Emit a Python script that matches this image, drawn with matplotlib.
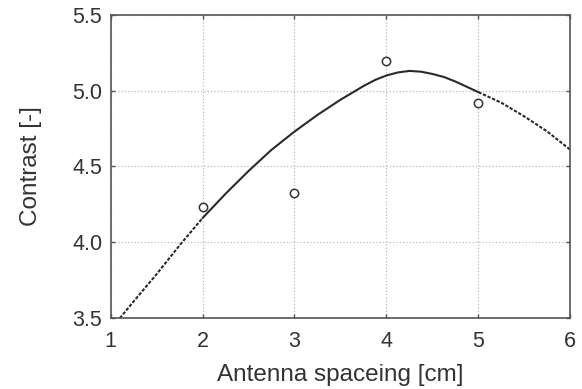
import matplotlib
matplotlib.use('Agg')
import matplotlib.pyplot as plt

plt.rcParams['font.family'] = ['Liberation Sans', 'DejaVu Sans']

# measured points
spacing = [2, 3, 4, 5]
contrast = [4.235, 4.323, 5.194, 4.921]

# fitted curve
curve_x = [1.1, 1.25, 1.5, 1.75, 2.0, 2.25, 2.5, 2.75, 3.0, 3.25, 3.5,
           3.75, 3.875, 4.0, 4.125, 4.25, 4.375, 4.5, 4.625, 4.75, 5.0,
           5.25, 5.5, 5.75, 6.0]
curve_y = [3.50, 3.61, 3.79, 3.98, 4.16, 4.32, 4.47, 4.61, 4.73, 4.84, 4.94,
           5.03, 5.07, 5.10, 5.12, 5.13, 5.125, 5.11, 5.09, 5.06, 4.99,
           4.92, 4.83, 4.73, 4.61]

fig, ax = plt.subplots(figsize=(5.82, 3.89), dpi=100)
fig.subplots_adjust(left=0.19, right=0.98, top=0.962, bottom=0.182)

# solid inside the measured range, dashed outside
inner = [i for i, x in enumerate(curve_x) if 2.0 <= x <= 5.0]
lo = [i for i, x in enumerate(curve_x) if x <= 2.0]
hi = [i for i, x in enumerate(curve_x) if x >= 5.0]
ax.plot([curve_x[i] for i in inner], [curve_y[i] for i in inner],
        color='#2a2a2a', lw=1.5, solid_capstyle='round')
for part in (lo, hi):
    ax.plot([curve_x[i] for i in part], [curve_y[i] for i in part],
            color='#2a2a2a', lw=1.5, ls=(0, (1.6, 0.8)))

ax.plot(spacing, contrast, 'o', ms=6, mfc='white', mec='#333333', mew=1.1,
        zorder=3)

ax.set_xlim(1, 6)
ax.set_ylim(3.5, 5.5)
ax.set_xticks([1, 2, 3, 4, 5, 6])
ax.set_yticks([3.5, 4.0, 4.5, 5.0, 5.5])
ax.set_yticklabels(['3.5', '4.0', '4.5', '5.0', '5.5'])
ax.grid(True, color='#bbbbbb', ls=':', lw=0.9)

for s in ax.spines.values():
    s.set_color('#555555')
    s.set_linewidth(1.2)
ax.tick_params(direction='in', length=3, width=1, colors='#555555',
               labelcolor='#333333', labelsize=15.5, top=True, right=True)
ax.tick_params(axis='x', pad=9)
ax.tick_params(axis='y', pad=6)

ax.set_xlabel('Antenna spaceing [cm]', fontsize=17.5, color='#333333', labelpad=9)
ax.set_ylabel('Contrast [-]', fontsize=17.5, color='#333333', labelpad=22)

fig.savefig('out.png', dpi=100)
